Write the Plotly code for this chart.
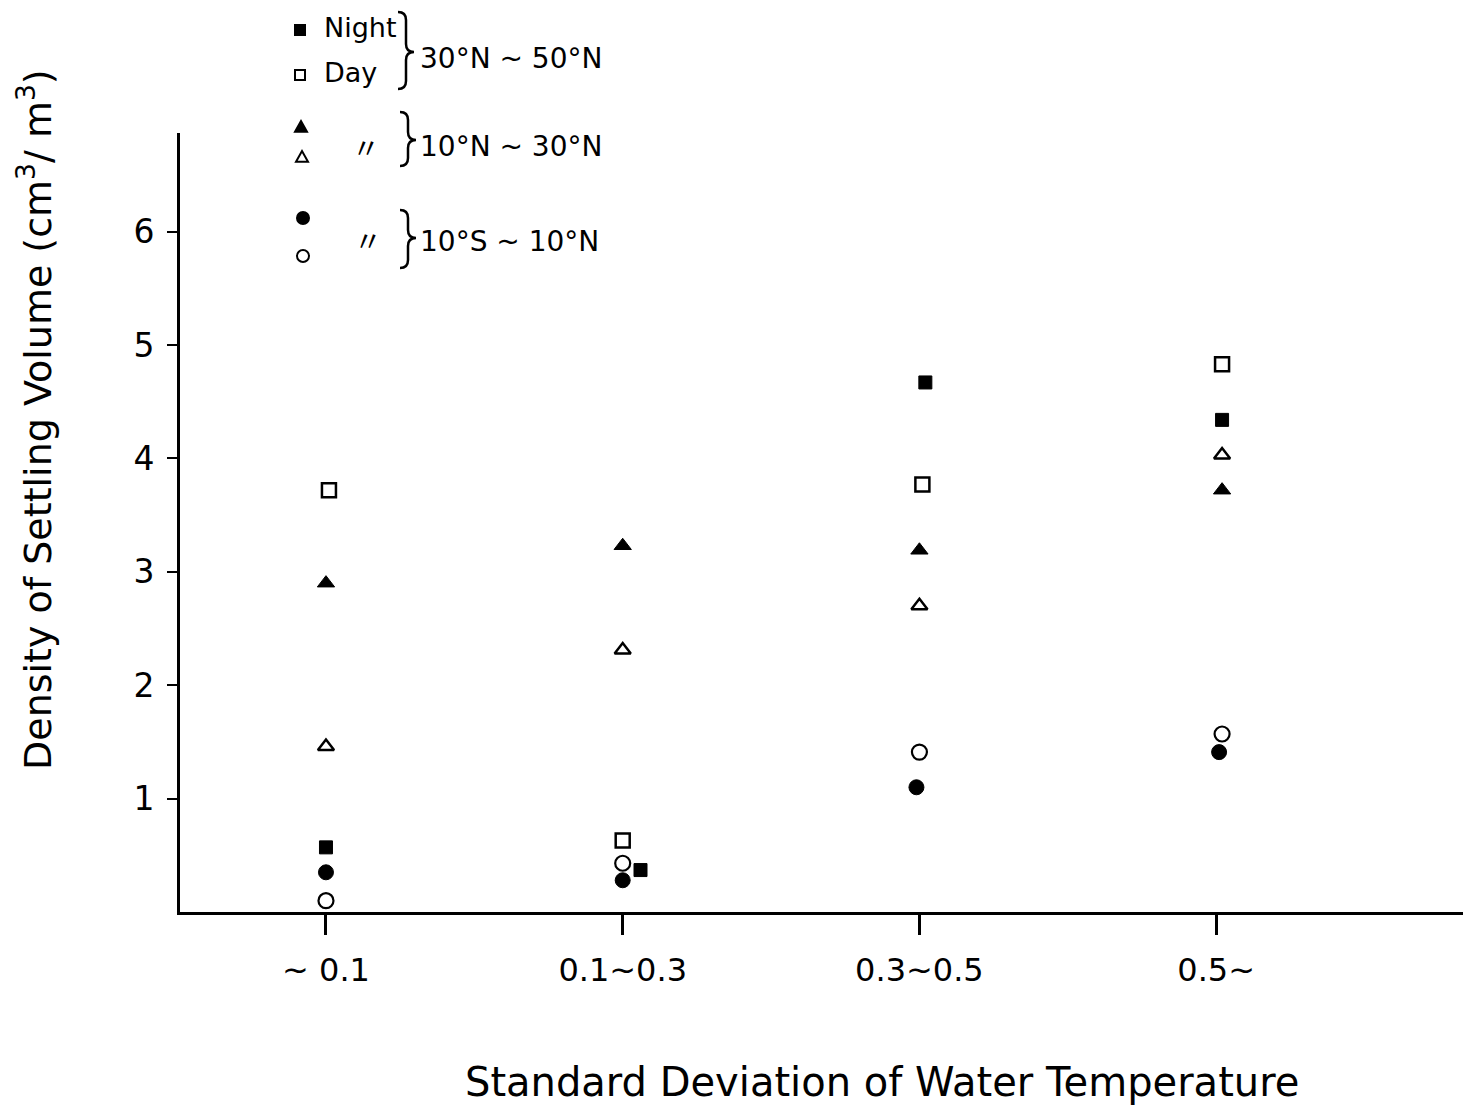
import plotly.graph_objects as go

# ---------------- data ----------------
categories = ["~ 0.1", "0.1~0.3", "0.3~0.5", "0.5~"]
cat_pos = [0, 1, 2, 3]
y_ticks = [1, 2, 3, 4, 5, 6]

# 30N~50N
night_30_50_x = [0.0, 1.06, 2.02, 3.02]
night_30_50 = [0.57, 0.37, 4.67, 4.34]
day_30_50_x = [0.01, 1.0, 2.01, 3.02]
day_30_50 = [3.72, 0.63, 3.77, 4.83]
# 10N~30N
night_10_30_x = [0.0, 1.0, 2.0, 3.02]
night_10_30 = [2.90, 3.23, 3.19, 3.72]
day_10_30_x = [0.0, 1.0, 2.0, 3.02]
day_10_30 = [1.46, 2.31, 2.70, 4.03]
# 10S~10N
night_eq_x = [0.0, 1.0, 1.99, 3.01]
night_eq = [0.35, 0.28, 1.10, 1.41]
day_eq_x = [0.0, 1.0, 2.0, 3.02]
day_eq = [0.10, 0.43, 1.41, 1.57]

FONT = "DejaVu Sans"
W, H = 1463, 1114
L, R, T, B = 180, 0, 133, 202


def px(x):
    return (x - L) / (W - L - R)


def py(y):
    return (H - B - y) / (H - T - B)


fig = go.Figure()

series = [
    (night_30_50_x, night_30_50, "square", 13, 1),
    (day_30_50_x, day_30_50, "square-open", 14, 2.5),
    (night_10_30_x, night_10_30, "triangle-up", 15, 1),
    (day_10_30_x, day_10_30, "triangle-up-open", 14, 2.5),
    (night_eq_x, night_eq, "circle", 15, 1),
    (day_eq_x, day_eq, "circle-open", 15, 2.2),
]
for xs, ys, sym, sz, lw in series:
    fig.add_trace(go.Scatter(
        x=xs, y=ys, mode="markers", showlegend=False, cliponaxis=False,
        marker=dict(symbol=sym, size=sz, color="black",
                    line=dict(color="black", width=lw)),
    ))

shapes = []


def legend_mark(x, y, kind, s, filled):
    base = dict(xref="paper", yref="paper", xsizemode="pixel", ysizemode="pixel",
                xanchor=px(x), yanchor=py(y),
                line=dict(color="black", width=2),
                fillcolor="black" if filled else "white")
    h = s / 2
    if kind in ("rect", "circle"):
        base.update(type=kind, x0=-h, x1=h, y0=-h, y1=h)
    else:
        base.update(type="path", path=f"M {-h},{-h * 0.8} L {h},{-h * 0.8} L 0,{h} Z")
    shapes.append(base)


legend_mark(300, 30, "rect", 10, True)
legend_mark(300, 75, "rect", 10, False)
legend_mark(301, 127, "tri", 12, True)
legend_mark(302, 157, "tri", 12, False)
legend_mark(303, 218, "circle", 12, True)
legend_mark(303, 256, "circle", 12, False)

annotations = []


def text(x, y, t, size=30, xanchor="left", angle=0, family=FONT):
    annotations.append(dict(
        x=px(x), y=py(y), xref="paper", yref="paper", text=t, showarrow=False,
        xanchor=xanchor, yanchor="middle", textangle=angle,
        font=dict(family=family, size=size, color="black"),
    ))


text(322, 27, "Night", 27)
text(322, 72, "Day", 27)
text(418, 58, "30°N ~ 50°N", 28)
text(418, 147, "10°N ~ 30°N", 28)
text(418, 241, "10°S ~ 10°N", 28)
text(366, 147, "〃", 28, xanchor="center", family="Noto Sans CJK JP")
text(368, 240, "〃", 28, xanchor="center", family="Noto Sans CJK JP")

# axis titles
text(35, 420, "Density of Settling Volume (cm<sup>3</sup>/ m<sup>3</sup>)", 38,
     xanchor="center", angle=-90)
text(882, 1082, "Standard Deviation of Water Temperature", 40, xanchor="center")


def brace(xl, yt, yb, ym, w=16, r=8):
    xm = xl + w / 2
    xr = xl + w
    pts = (
        f"M {px(xl)},{py(yt)} "
        f"Q {px(xm)},{py(yt)} {px(xm)},{py(yt + r)} "
        f"L {px(xm)},{py(ym - r)} "
        f"Q {px(xm)},{py(ym)} {px(xr)},{py(ym)} "
        f"Q {px(xm)},{py(ym)} {px(xm)},{py(ym + r)} "
        f"L {px(xm)},{py(yb - r)} "
        f"Q {px(xm)},{py(yb)} {px(xl)},{py(yb)}"
    )
    shapes.append(dict(type="path", path=pts, xref="paper", yref="paper",
                       line=dict(color="black", width=2.5)))


brace(398, 12, 89, 52)
brace(400, 112, 166, 140)
brace(400, 210, 268, 238)

fig.update_layout(
    width=W, height=H,
    margin=dict(l=L, r=R, t=T, b=B, pad=0),
    paper_bgcolor="white", plot_bgcolor="white",
    showlegend=False,
    annotations=annotations,
    shapes=shapes,
    font=dict(family=FONT, color="black"),
    xaxis=dict(
        range=[-0.492, 3.832], tickvals=cat_pos, ticktext=categories,
        ticks="outside", ticklen=20, tickwidth=3, tickcolor="black",
        showline=True, linewidth=3, linecolor="black",
        showgrid=False, zeroline=False,
        tickfont=dict(family=FONT, size=32, color="black"),
        ticklabelstandoff=8,
    ),
    yaxis=dict(
        range=[0, 6.87], tickvals=y_ticks,
        ticks="outside", ticklen=10, tickwidth=2, tickcolor="black",
        showline=True, linewidth=3, linecolor="black",
        showgrid=False, zeroline=False,
        tickfont=dict(family=FONT, size=33, color="black"),
        ticklabelstandoff=6,
    ),
)

fig.write_html("out.html")
